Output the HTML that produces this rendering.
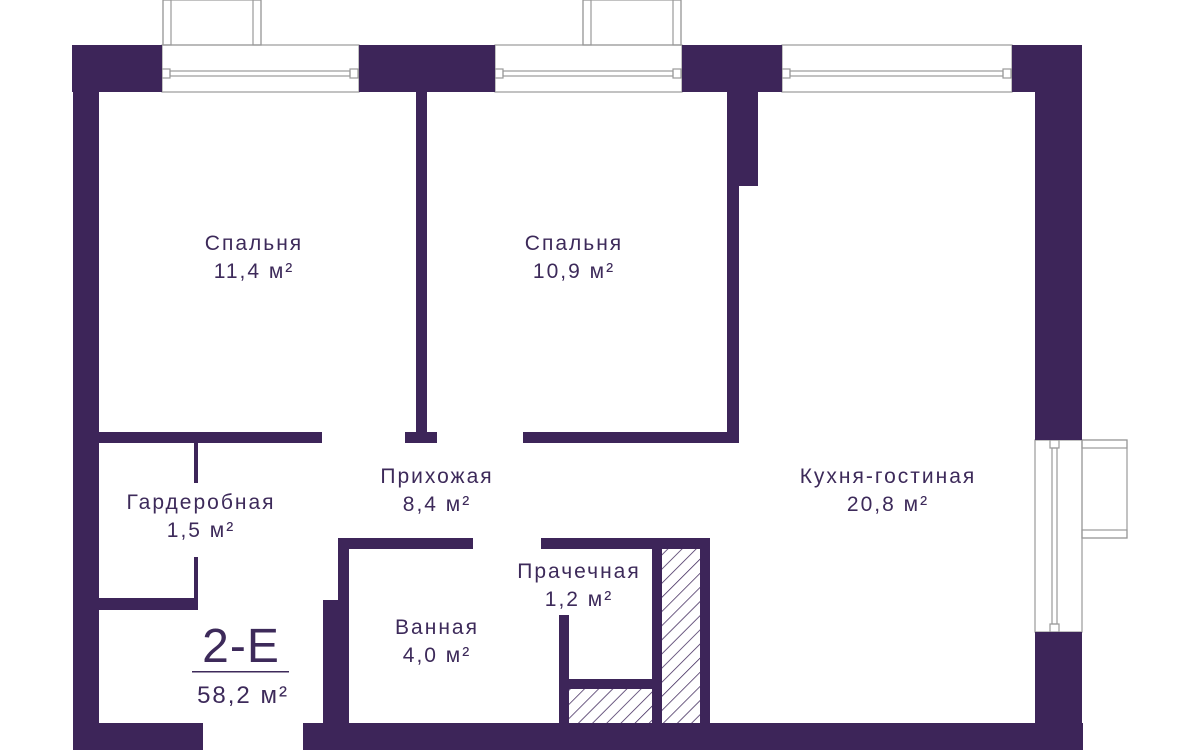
<!DOCTYPE html>
<html><head><meta charset="utf-8"><style>
html,body{margin:0;padding:0;background:#fff;}
svg{display:block;}
text{font-family:"Liberation Sans",sans-serif;fill:#3d2a5a;font-size:21px;letter-spacing:2px;text-anchor:middle;}
</style></head><body>
<svg width="1200" height="750" viewBox="0 0 1200 750" xmlns="http://www.w3.org/2000/svg">
<defs>
<pattern id="h" patternUnits="userSpaceOnUse" width="10" height="10" patternTransform="rotate(45)">
<rect width="10" height="10" fill="#fff"/><line x1="0" y1="0" x2="0" y2="10" stroke="#3d2559" stroke-width="1.5"/>
</pattern>
</defs>
<g fill="none" stroke="#999" stroke-width="1.2">
<rect x="163" y="0" width="98" height="45"/><rect x="163" y="0" width="8" height="45"/><rect x="253" y="0" width="8" height="45"/>
<rect x="583" y="0" width="98" height="45"/><rect x="583" y="0" width="8" height="45"/><rect x="673" y="0" width="8" height="45"/>
<rect x="162" y="45" width="197" height="47"/><rect x="170" y="71" width="180" height="5"/><rect x="162" y="69" width="8" height="9"/><rect x="350" y="69" width="8" height="9"/>
<rect x="495" y="45" width="187" height="47"/><rect x="503" y="71" width="170" height="5"/><rect x="495" y="69" width="8" height="9"/><rect x="673" y="69" width="8" height="9"/>
<rect x="782" y="45" width="230" height="47"/><rect x="790" y="71" width="213" height="5"/><rect x="782" y="69" width="8" height="9"/><rect x="1003" y="69" width="8" height="9"/>
<rect x="1035" y="440" width="47" height="192"/><rect x="1052" y="448" width="5" height="176"/><rect x="1050" y="440" width="9" height="8"/><rect x="1050" y="624" width="9" height="8"/>
<rect x="1082" y="440" width="45" height="98"/><rect x="1082" y="440" width="45" height="8"/><rect x="1082" y="530" width="45" height="8"/>
</g>
<g fill="#3d2559">
<rect x="72" y="45" width="90" height="47"/>
<rect x="359" y="45" width="136" height="47"/>
<rect x="682" y="45" width="100" height="47"/>
<rect x="1012" y="45" width="70" height="47"/>
<rect x="73" y="45" width="26" height="705"/>
<rect x="1035" y="45" width="47" height="395"/>
<rect x="1035" y="632" width="47" height="118"/>
<rect x="73" y="723" width="130" height="27"/>
<rect x="303" y="723" width="780" height="27"/>
<rect x="416" y="92" width="11" height="345"/>
<rect x="405" y="432" width="32" height="11"/>
<rect x="99" y="432" width="223" height="11"/>
<rect x="523" y="432" width="216" height="11"/>
<rect x="727" y="92" width="12" height="351"/>
<rect x="727" y="92" width="31" height="94"/>
<rect x="194" y="443" width="4" height="40"/>
<rect x="194" y="557" width="4" height="53"/>
<rect x="99" y="598" width="99" height="12"/>
<rect x="338" y="538" width="135" height="11"/>
<rect x="338" y="538" width="11" height="190"/>
<rect x="323" y="600" width="26" height="128"/>
<rect x="541" y="538" width="169" height="11"/>
<rect x="652" y="538" width="10" height="190"/>
<rect x="700" y="538" width="10" height="190"/>
<rect x="559" y="615" width="10" height="113"/>
<rect x="569" y="679" width="83" height="10"/>
</g>
<rect x="662" y="549" width="38" height="174" fill="url(#h)"/>
<rect x="569" y="689" width="83" height="34" fill="url(#h)"/>
<text x="254" y="250">Спальня</text><text x="254" y="278">11,4 м²</text>
<text x="574" y="250">Спальня</text><text x="574" y="278">10,9 м²</text>
<text x="437" y="483">Прихожая</text><text x="437" y="511">8,4 м²</text>
<text x="201" y="509">Гардеробная</text><text x="201" y="537">1,5 м²</text>
<text x="888" y="483">Кухня-гостиная</text><text x="888" y="511">20,8 м²</text>
<text x="579" y="578">Прачечная</text><text x="579" y="606">1,2 м²</text>
<text x="437" y="634">Ванная</text><text x="437" y="662">4,0 м²</text>
<text x="241" y="662" style="font-size:48px;letter-spacing:1px">2-E</text>
<rect x="192" y="671" width="97" height="1.5" fill="#3d2a5a"/>
<text x="243" y="703" style="font-size:24px;letter-spacing:2px">58,2 м²</text>
</svg>
</body></html>
